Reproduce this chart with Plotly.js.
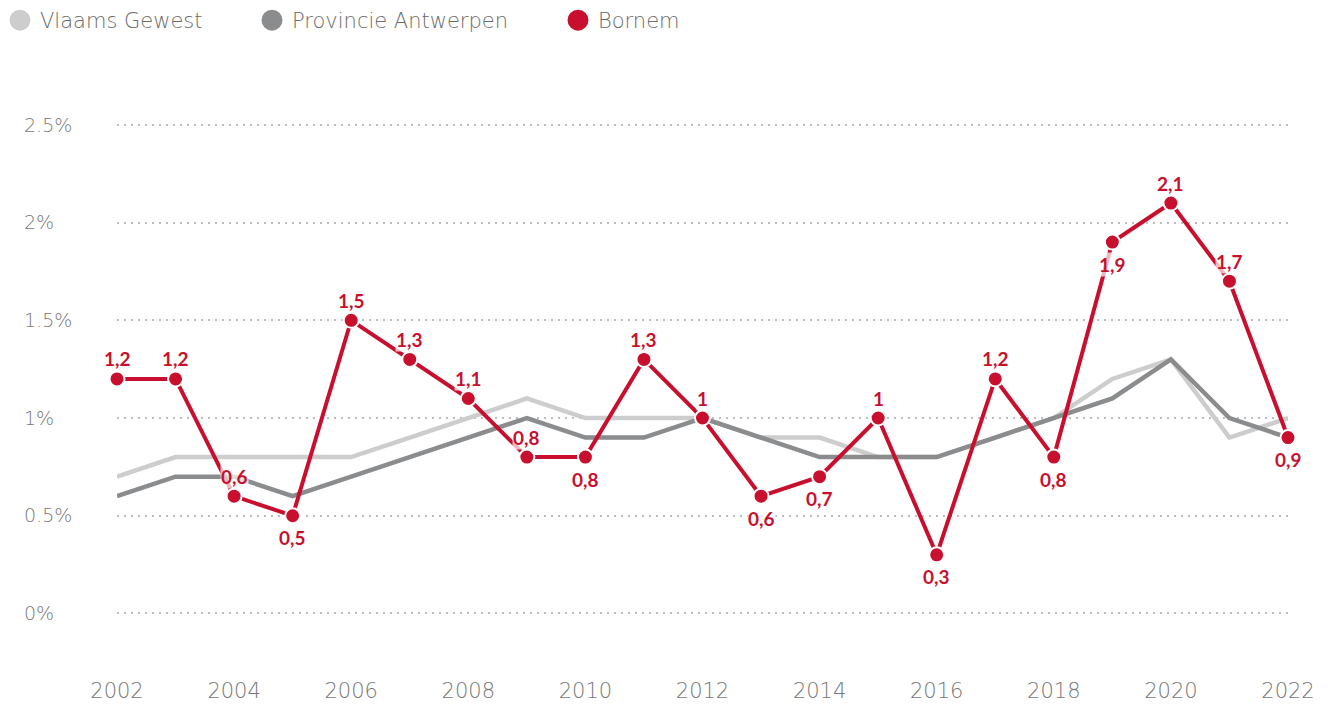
<!DOCTYPE html>
<html>
<head>
<meta charset="utf-8">
<script src="https://cdn.plot.ly/plotly-3.0.1.min.js"></script>
<style>
html,body{margin:0;padding:0;background:#fff;}
#chart{width:1330px;height:706px;}
</style>
</head>
<body>
<div id="chart"></div>
<script>
const years = [2002,2003,2004,2005,2006,2007,2008,2009,2010,2011,2012,2013,2014,2015,2016,2017,2018,2019,2020,2021,2022];
const vlaamsGewest = [0.7,0.8,0.8,0.8,0.8,0.9,1.0,1.1,1.0,1.0,1.0,0.9,0.9,0.8,0.8,0.9,1.0,1.2,1.3,0.9,1.0];
const provincieAntwerpen = [0.6,0.7,0.7,0.6,0.7,0.8,0.9,1.0,0.9,0.9,1.0,0.9,0.8,0.8,0.8,0.9,1.0,1.1,1.3,1.0,0.9];
const bornem = [1.2,1.2,0.6,0.5,1.5,1.3,1.1,0.8,0.8,1.3,1.0,0.6,0.7,1.0,0.3,1.2,0.8,1.9,2.1,1.7,0.9];
const labelSide = ['top','top','top','bottom','top','top','top','top','bottom','top','top','bottom','bottom','top','bottom','top','bottom','bottom','top','top','bottom'];
const seriesNames = ['Vlaams Gewest','Provincie Antwerpen','Bornem'];
const yTickVals = [0,0.5,1,1.5,2,2.5];
const yTickText = ['0%','0.5%','1%','1.5%','2%','2.5%'];
const xTickVals = [2002,2004,2006,2008,2010,2012,2014,2016,2018,2020,2022];
const xTickText = ['2002','2004','2006','2008','2010','2012','2014','2016','2018','2020','2022'];

const cLight = '#cdcdcd', cDark = '#8a8c8e', cRed = '#c8102e';
const lightFamily = 'DejaVu Sans';
const xTickFont = {family:lightFamily, size:21, color:'#777777', weight:200};
const yTickFont = {family:lightFamily, size:19, color:'#777777', weight:200};
const legendFont = {family:lightFamily, size:21, color:'#6a6a6a', weight:200};

const legendColors = [cLight, cDark, cRed];
const legendIds = ['legend','legend2','legend3'];

const traces = [
  {x:years, y:vlaamsGewest, mode:'lines', line:{color:cLight, width:4.5}, showlegend:false, hoverinfo:'skip', cliponaxis:false},
  {x:years, y:provincieAntwerpen, mode:'lines', line:{color:cDark, width:4.5}, showlegend:false, hoverinfo:'skip', cliponaxis:false},
  {x:years, y:bornem, mode:'lines+markers', line:{color:cRed, width:4},
   marker:{color:cRed, size:15, line:{color:'#ffffff', width:2}}, showlegend:false, hoverinfo:'skip', cliponaxis:false}
];
seriesNames.forEach((nm, i) => {
  traces.push({x:[null], y:[null], mode:'markers', name:nm, legend:legendIds[i],
    marker:{color:legendColors[i], size:16, line:{color:legendColors[i], width:5}}});
});

const annotations = years.map((yr, i) => ({
  x: yr, y: bornem[i], xref:'x', yref:'y',
  text: String(bornem[i]).replace('.', ','),
  showarrow:false, xanchor:'center', yanchor:'middle',
  yshift: labelSide[i] === 'top' ? 20 : -22,
  font:{family:'Lato', size:19, color:cRed, weight:700},
  bgcolor:'rgba(255,255,255,0.7)', borderpad:0
}));

function legendBox(px){
  return {orientation:'h', xref:'container', yref:'container', x:px/1330, y:1, xanchor:'left', yanchor:'top',
    font:legendFont, itemclick:false, bgcolor:'rgba(0,0,0,0)'};
}

const layout = {
  width:1330, height:706,
  margin:{l:20, r:42, t:76, b:30},
  paper_bgcolor:'#ffffff', plot_bgcolor:'#ffffff',
  showlegend:true,
  legend:legendBox(-2),
  legend2:legendBox(252),
  legend3:legendBox(558),
  xaxis:{domain:[97/1268, 1], range:[2002, 2022], tickvals:xTickVals, ticktext:xTickText,
    showgrid:false, zeroline:false, showline:false, ticks:'', tickfont:xTickFont, fixedrange:true},
  yaxis:{range:[-0.32, 2.75], tickvals:yTickVals, ticktext:yTickText, anchor:'free', position:0,
    ticklabelposition:'inside', showgrid:true, gridcolor:'#bdbdbd', gridwidth:2, griddash:'2px,5px',
    zeroline:false, showline:false, ticks:'', tickfont:yTickFont, fixedrange:true},
  annotations: annotations
};

Plotly.newPlot('chart', traces, layout, {displayModeBar:false, staticPlot:true});
</script>
</body>
</html>
